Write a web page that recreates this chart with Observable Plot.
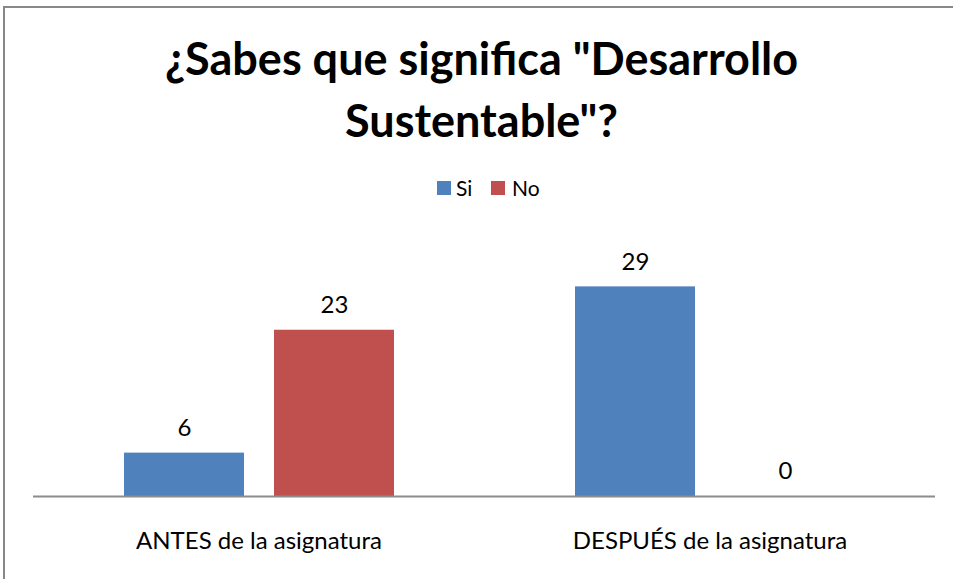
<!DOCTYPE html>
<html>
<head>
<meta charset="utf-8">
<script src="https://cdn.jsdelivr.net/npm/d3@7"></script>
<script src="https://cdn.jsdelivr.net/npm/@observablehq/plot@0.6"></script>
<style>
  html, body { margin: 0; padding: 0; background: #fff; overflow: hidden; }
  body { width: 953px; height: 579px; position: relative; font-family: Lato, "Open Sans", sans-serif; }
  #frame { position: absolute; left: 3px; top: 6px; width: 1000px; height: 1000px; border: 2px solid #888; box-sizing: border-box; }
  #title { position: absolute; left: 0; top: 27px; width: 963px; text-align: center; font-weight: bold; font-size: 45px; line-height: 62px; color: #000; }
  #legend { position: absolute; top: 0; left: 0; width: 953px; height: 220px; font-size: 21px; color: #000; }
  #legend .sw { position: absolute; width: 14px; height: 14px; top: 181px; }
  #legend .lab { position: absolute; top: 175px; line-height: 26px; }
  #chart { position: absolute; left: 0; top: 0; }
</style>
</head>
<body>
<div id="frame"></div>
<div id="chart"></div>
<div id="title">¿Sabes que significa "Desarrollo<br>Sustentable"?</div>
<div id="legend"></div>
<script>
const categories = ["ANTES de la asignatura", "DESPUÉS de la asignatura"];
const seriesNames = ["Si", "No"];
const siValues = [6, 29];
const noValues = [23, 0];
const colors = ["#4F81BD", "#C0504D"];

const data = [];
categories.forEach((c, i) => {
  data.push({ group: c, series: "Si", value: siValues[i] });
  data.push({ group: c, series: "No", value: noValues[i] });
});

// legend (swatches positioned like the reference)
const legend = document.getElementById("legend");
const swatchX = [437, 491];
const labelX = [456, 512];
seriesNames.forEach((s, i) => {
  const sw = document.createElement("span");
  sw.className = "sw";
  sw.style.left = swatchX[i] + "px";
  sw.style.background = colors[i];
  legend.appendChild(sw);
  const lab = document.createElement("span");
  lab.className = "lab";
  lab.style.left = labelX[i] + "px";
  lab.textContent = s;
  legend.appendChild(lab);
});

const chart = Plot.plot({
  width: 953,
  height: 579,
  marginTop: 243,
  marginBottom: 83,
  marginLeft: 33,
  marginRight: 18,
  style: { fontFamily: "Lato, 'Open Sans', sans-serif", background: "transparent" },
  fx: { domain: categories, padding: 0, label: null },
  x: { domain: seriesNames, paddingInner: 0.2, paddingOuter: 0.603, axis: null },
  y: { domain: [0, 35], axis: null },
  color: { domain: seriesNames, range: colors },
  marks: [
    Plot.barY(data, { fx: "group", x: "series", y: "value", fill: "series" }),
    Plot.ruleY([0], { stroke: "#8c8c8c", strokeWidth: 2 }),
    Plot.text(data, { fx: "group", x: "series", y: "value", text: d => String(d.value), dy: -25, fontSize: 24, fill: "#000" }),
    Plot.axisFx({ anchor: "bottom", tickSize: 0, tickPadding: 35, fontSize: 24, label: null, fill: "#000" })
  ]
});
document.getElementById("chart").appendChild(chart);
</script>
</body>
</html>
